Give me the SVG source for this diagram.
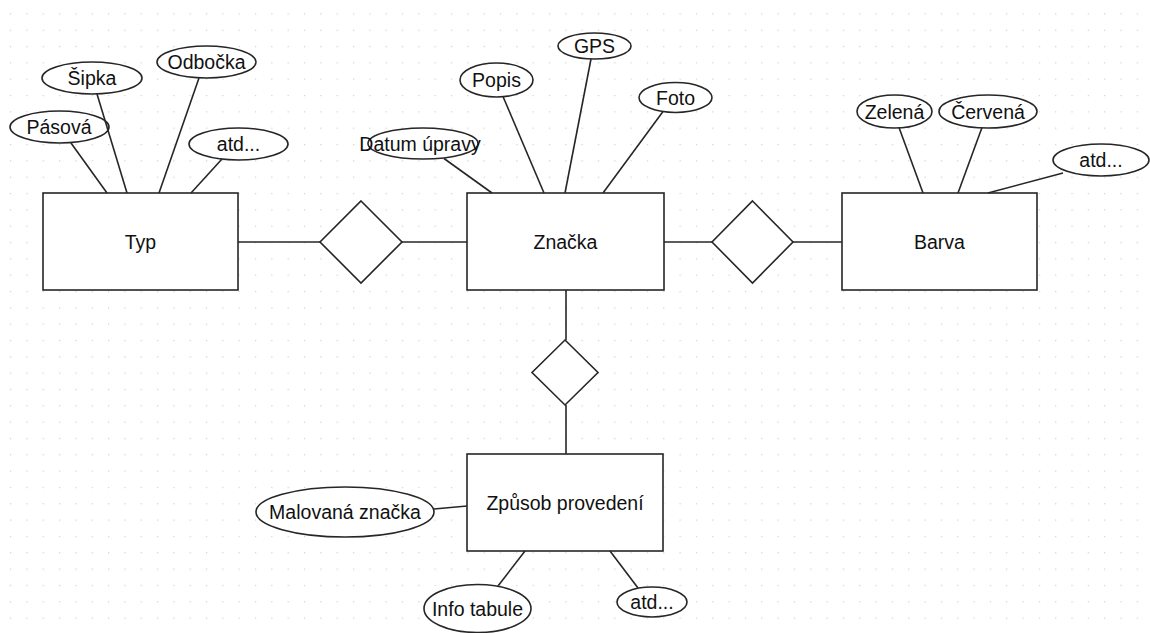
<svg xmlns="http://www.w3.org/2000/svg" width="1150" height="633" viewBox="0 0 1150 633">
  <style>
    .ent { fill: #ffffff; stroke: #262626; stroke-width: 1.6; }
    .rel { fill: #ffffff; stroke: #262626; stroke-width: 1.6; }
    .att { fill: #ffffff; stroke: #262626; stroke-width: 1.6; }
    .con line { stroke: #262626; stroke-width: 1.6; }
    text { font-family: "Liberation Sans", Arial, sans-serif; font-size: 19.5px; fill: #111111; text-anchor: middle; }
  </style>
  <defs>
    <pattern id="grid" x="10" y="13.3" width="16.33" height="16.33" patternUnits="userSpaceOnUse">
      <rect x="0" y="0" width="1.2" height="1.2" fill="#cfcfcf"/>
    </pattern>
  </defs>

  <rect width="1150" height="633" fill="#ffffff"/>
  <rect x="9.4" y="12.7" width="1140.6" height="620.3" fill="url(#grid)"/>

  <!-- entities -->
  <g id="typ">
    <rect class="ent" x="43" y="193" width="195" height="97"/>
    <text x="140.5" y="249">Typ</text>
  </g>
  <g id="znacka">
    <rect class="ent" x="467" y="193" width="197" height="97"/>
    <text x="565.5" y="249">Značka</text>
  </g>
  <g id="barva">
    <rect class="ent" x="842" y="193" width="195" height="97"/>
    <text x="939.5" y="249">Barva</text>
  </g>
  <g id="zpusob">
    <rect class="ent" x="467" y="454" width="196" height="97"/>
    <text x="565" y="510">Způsob provedení</text>
  </g>

  <!-- relationships -->
  <g id="rel-typ-znacka">
    <polygon class="rel" points="361,201 402,242 361,283 320,242"/>
  </g>
  <g id="rel-znacka-barva">
    <polygon class="rel" points="752.5,201 793,242 752.5,283 712,242"/>
  </g>
  <g id="rel-znacka-zpusob">
    <polygon class="rel" points="565,340 598,372.5 565,405 532,372.5"/>
  </g>

  <!-- attributes of Typ -->
  <g id="att-pasova">
    <ellipse class="att" cx="59.5" cy="127" rx="49.5" ry="16"/>
    <text x="59" y="134">Pásová</text>
  </g>
  <g id="att-sipka">
    <ellipse class="att" cx="92" cy="78" rx="50" ry="16"/>
    <text x="92" y="85">Šipka</text>
  </g>
  <g id="att-odbocka">
    <ellipse class="att" cx="206.5" cy="62" rx="49.5" ry="16"/>
    <text x="206.5" y="69">Odbočka</text>
  </g>
  <g id="att-typ-atd">
    <ellipse class="att" cx="238.5" cy="144" rx="49.5" ry="16"/>
    <text x="238.5" y="151">atd...</text>
  </g>

  <!-- attributes of Značka -->
  <g id="att-datum">
    <ellipse class="att" cx="423" cy="143.5" rx="55" ry="15.5"/>
    <text x="420" y="150.5">Datum úpravy</text>
  </g>
  <g id="att-popis">
    <ellipse class="att" cx="496.5" cy="80" rx="36.5" ry="17"/>
    <text x="496.5" y="87">Popis</text>
  </g>
  <g id="att-gps">
    <ellipse class="att" cx="594.5" cy="46" rx="36.5" ry="13"/>
    <text x="594.5" y="53">GPS</text>
  </g>
  <g id="att-foto">
    <ellipse class="att" cx="675.5" cy="97.5" rx="36.5" ry="15"/>
    <text x="675.5" y="104.5">Foto</text>
  </g>

  <!-- attributes of Barva -->
  <g id="att-zelena">
    <ellipse class="att" cx="894.5" cy="111.5" rx="37.5" ry="16.5"/>
    <text x="894.5" y="118.5">Zelená</text>
  </g>
  <g id="att-cervena">
    <ellipse class="att" cx="988" cy="111.5" rx="49" ry="16.5"/>
    <text x="988" y="118.5">Červená</text>
  </g>
  <g id="att-barva-atd">
    <ellipse class="att" cx="1101" cy="160" rx="48" ry="16"/>
    <text x="1101" y="167">atd...</text>
  </g>

  <!-- attributes of Způsob provedení -->
  <g id="att-malovana">
    <ellipse class="att" cx="345" cy="512" rx="89" ry="25"/>
    <text x="345" y="519">Malovaná značka</text>
  </g>
  <g id="att-info">
    <ellipse class="att" cx="477.5" cy="608.5" rx="53.5" ry="24"/>
    <text x="477.5" y="615.5">Info tabule</text>
  </g>
  <g id="att-zpusob-atd">
    <ellipse class="att" cx="652" cy="602" rx="35" ry="15"/>
    <text x="652" y="609">atd...</text>
  </g>

  <!-- connectors -->
  <g id="connectors" class="con">
    <line x1="238" y1="242" x2="320" y2="242"/>
    <line x1="402" y1="242" x2="467" y2="242"/>
    <line x1="664" y1="242" x2="712" y2="242"/>
    <line x1="793" y1="242" x2="842" y2="242"/>
    <line x1="566" y1="290" x2="566" y2="340"/>
    <line x1="566" y1="405" x2="566" y2="454"/>

    <line x1="71" y1="143" x2="107" y2="193"/>
    <line x1="97" y1="94" x2="127" y2="193"/>
    <line x1="199" y1="78" x2="159" y2="193"/>
    <line x1="222" y1="159" x2="191" y2="193"/>

    <line x1="444" y1="158.5" x2="492" y2="193"/>
    <line x1="503" y1="96.5" x2="544" y2="193"/>
    <line x1="591" y1="59" x2="565" y2="193"/>
    <line x1="663" y1="111.5" x2="603" y2="193"/>

    <line x1="899" y1="127.5" x2="923" y2="193"/>
    <line x1="982" y1="127.5" x2="958" y2="193"/>
    <line x1="1063" y1="173" x2="988" y2="193"/>

    <line x1="434" y1="509" x2="467" y2="506"/>
    <line x1="498" y1="586" x2="525" y2="551"/>
    <line x1="638" y1="588" x2="610" y2="551"/>
  </g>
</svg>
